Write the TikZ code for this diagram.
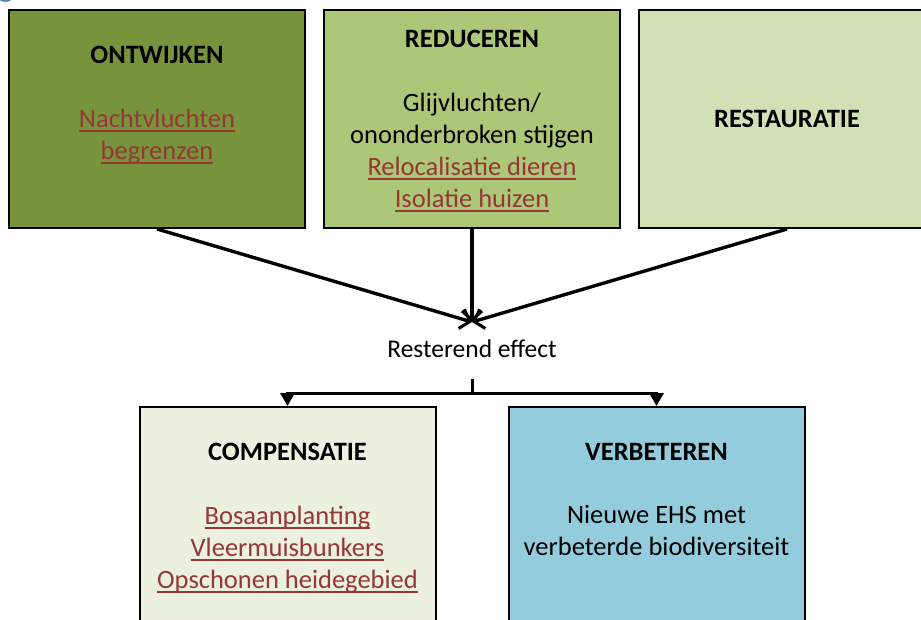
\documentclass[tikz,border=0pt]{standalone}
\usepackage{fontspec}
\setmainfont{Carlito}
\usetikzlibrary{arrows.meta}

\definecolor{avoidgreen}{HTML}{77933C}
\definecolor{reducegreen}{HTML}{ADC778}
\definecolor{restoregreen}{HTML}{D2E0B5}
\definecolor{compgreen}{HTML}{EBF0DF}
\definecolor{improveblue}{HTML}{93CDDD}
\definecolor{linkred}{HTML}{953735}
\definecolor{titleblue}{HTML}{4F81BD}

% underlined measure, drawn in the link colour
\newcommand\linktext[1]{\textcolor{linkred}{\setbox0\hbox{#1}\rlap{\rule[-4.6pt]{\wd0}{1.3pt}}\box0}}

\tikzset{
  box/.style={draw=black, line width=2pt, minimum width=296pt, minimum height=218pt, inner sep=0pt},
  lowbox/.style={box, minimum height=240pt},
  head/.style={font=\fontsize{26.5}{32}\selectfont\bfseries, anchor=base, inner sep=0pt},
  body/.style={font=\fontsize{26.5}{32}\selectfont, align=center, anchor=base, inner sep=0pt},
  flow/.style={line width=3.4pt, -{Straight Barb[length=9pt,width=20pt,line width=3pt]}},
  split/.style={line width=3pt, -{Triangle[length=13pt,width=14pt]}},
}

\begin{document}
\begin{tikzpicture}[x=1pt,y=-1pt]
\useasboundingbox (0,0) rectangle (921,619);

% clipped title letter at the top edge
\node[text=titleblue, font=\fontsize{34}{40}\selectfont, anchor=base, inner sep=0pt] (title) at (6,-4) {g};

% measure boxes, top row
\node[box, fill=avoidgreen]   (avoid)   at (157,119) {};
\node[box, fill=reducegreen]  (reduce)  at (472,119) {};
\node[box, fill=restoregreen] (restore) at (787,119) {};

% compensation and improvement, bottom row
\node[lowbox, fill=compgreen]   (comp)    at (287.5,527) {};
\node[lowbox, fill=improveblue] (improve) at (656.5,527) {};

% texts of the top row (a block node sits on its last baseline)
\node[head] (avoidh) at (157,63) {ONTWIJKEN};
\node[body] (avoidb) at (157,159) {\linktext{Nachtvluchten}\\ \linktext{begrenzen}};

\node[head] (reduceh) at (472,47) {REDUCEREN};
\node[body] (reduceb) at (472,207) {Glijvluchten/\\ ononderbroken stijgen\\ \linktext{Relocalisatie dieren}\\ \linktext{Isolatie huizen}};

\node[head] (restoreh) at (787,127) {RESTAURATIE};

% remaining effect
\node[font=\fontsize{25.5}{30}\selectfont, anchor=base, inner sep=0pt] (rest) at (472,357) {Resterend effect};
\coordinate (meet) at (472,322);
\coordinate (stem) at (472,379);
\coordinate (fork) at (472,393);

% texts of the bottom row
\node[head] (comph) at (287.5,460) {COMPENSATIE};
\node[body] (compb) at (287.5,588) {\linktext{Bosaanplanting}\\ \linktext{Vleermuisbunkers}\\ \linktext{Opschonen heidegebied}};

\node[head] (improveh) at (656.5,460) {VERBETEREN};
\node[body] (improveb) at (656.5,555) {Nieuwe EHS met\\ verbeterde biodiversiteit};

% connectors
\draw[flow] (avoid.south)   -- (meet);
\draw[flow] (reduce.south)  -- (meet);
\draw[flow] (restore.south) -- (meet);

\draw[line width=3pt] (stem) -- (fork);
\draw[split] (fork) -| (comp.north);
\draw[split] (fork) -| (improve.north);
\end{tikzpicture}
\end{document}
